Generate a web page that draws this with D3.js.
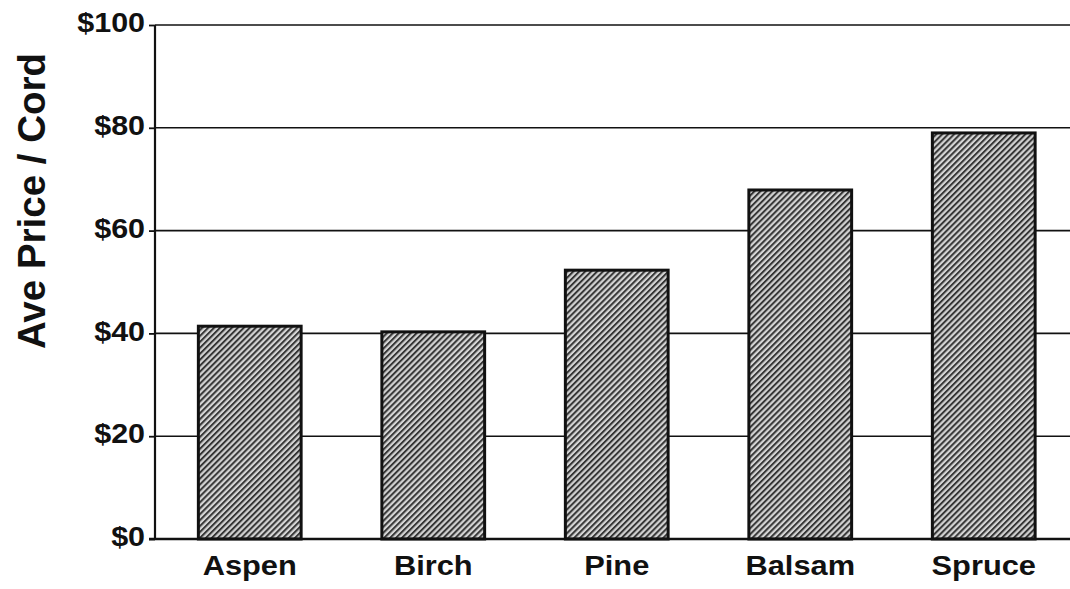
<!DOCTYPE html>
<html>
<head>
<meta charset="utf-8">
<script src="https://cdn.jsdelivr.net/npm/d3@7"></script>
<style>
  html, body { margin: 0; padding: 0; background: #fff; }
  svg { display: block; font-family: "Liberation Sans", Arial, sans-serif; font-weight: bold; }
</style>
</head>
<body>
<svg id="chart" width="1070" height="589"></svg>
<script>
// Average pulpwood price per cord by species
const species = ["Aspen", "Birch", "Pine", "Balsam", "Spruce"];
const pricePerCord = [41.4, 40.3, 52.3, 67.9, 79.0];
const yTicks = [0, 20, 40, 60, 80, 100];

const svg = d3.select("#chart");
const W = 1070, H = 589;
const axisX = 155, plotTop = 25, plotBottom = 539;

const x = d3.scaleBand()
  .domain(species)
  .range([axisX + 3, axisX + 3 + 5 * 183.5])
  .paddingInner(0.44)
  .paddingOuter(0.22);

const y = d3.scaleLinear()
  .domain([0, 100])
  .range([plotBottom, plotTop]);

// Diagonal hatch fill for the bars
const defs = svg.append("defs");
const pat = defs.append("pattern")
  .attr("id", "hatch")
  .attr("patternUnits", "userSpaceOnUse")
  .attr("width", 4.2)
  .attr("height", 4.2)
  .attr("patternTransform", "rotate(45)");
pat.append("rect").attr("width", 4.2).attr("height", 4.2).attr("fill", "#d4d4d4");
pat.append("rect").attr("width", 2).attr("height", 4.2).attr("fill", "#363636");

// Horizontal gridlines
svg.append("g")
  .selectAll("line")
  .data(yTicks.filter(d => d > 0))
  .join("line")
  .attr("x1", axisX)
  .attr("x2", W)
  .attr("y1", d => y(d))
  .attr("y2", d => y(d))
  .attr("stroke", "#111")
  .attr("stroke-width", 1.6);

// Y axis
const yAxis = svg.append("g")
  .attr("transform", `translate(${axisX},0)`)
  .call(d3.axisLeft(y).tickValues(yTicks).tickSize(6).tickPadding(0).tickFormat(d => "$" + d));
yAxis.select(".domain").attr("stroke", "#111").attr("stroke-width", 2.2).attr("d", `M0,${y(100)}V${plotBottom}`);
yAxis.selectAll(".tick line").attr("stroke", "#111").attr("stroke-width", 1.8);
yAxis.selectAll(".tick text")
  .attr("fill", "#111")
  .attr("x", -8.8)
  .attr("dy", "0.25em")
  .attr("transform", "scale(1.13,1)")
  .style("font-size", "27px")
  .style("font-weight", "bold");

// Bars
svg.append("g")
  .selectAll("rect")
  .data(species.map((s, i) => ({ s, v: pricePerCord[i] })))
  .join("rect")
  .attr("x", d => x(d.s))
  .attr("width", x.bandwidth())
  .attr("y", d => y(d.v))
  .attr("height", d => plotBottom - y(d.v))
  .attr("fill", "url(#hatch)")
  .attr("stroke", "#111")
  .attr("stroke-width", 3);

// Baseline
svg.append("line")
  .attr("x1", axisX - 6)
  .attr("x2", W)
  .attr("y1", plotBottom)
  .attr("y2", plotBottom)
  .attr("stroke", "#111")
  .attr("stroke-width", 2.6);

// Category labels
svg.append("g")
  .selectAll("text")
  .data(species)
  .join("text")
  .attr("transform", d => `translate(${x(d) + x.bandwidth() / 2},575) scale(1.1,1)`)
  .attr("text-anchor", "middle")
  .attr("fill", "#111")
  .style("font-size", "28px")
  .text(d => d);

// Y axis title
svg.append("text")
  .attr("transform", "translate(45,201) rotate(-90)")
  .attr("text-anchor", "middle")
  .attr("fill", "#111")
  .style("font-size", "38.5px")
  .text("Ave Price / Cord");
</script>
</body>
</html>
